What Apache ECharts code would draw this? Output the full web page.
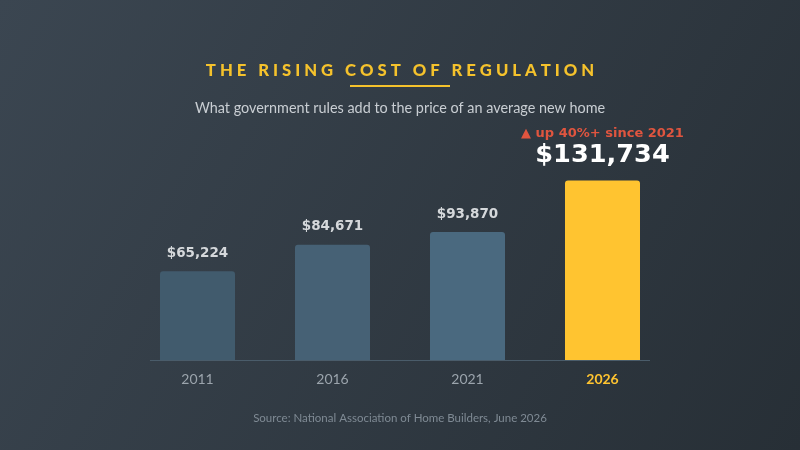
<!DOCTYPE html>
<html>
<head>
<meta charset="utf-8">
<script src="https://cdn.jsdelivr.net/npm/echarts@6/dist/echarts.min.js"></script>
<style>
  html, body { margin: 0; padding: 0; }
  #main { width: 800px; height: 450px; }
</style>
</head>
<body>
<div id="main"></div>
<script>
// data
var years = ['2011', '2016', '2021', '2026']
var costs = [65224, 84671, 93870, 131734]
var barColors = ['#415b6d', '#466175', '#4a697f', '#ffc430']
var titleText = 'THE RISING COST OF REGULATION'
var subText = 'What government rules add to the price of an average new home'
var noteText = '▲ up 40%+ since 2021'
var sourceText = 'Source: National Association of Home Builders, June 2026'

function fmt(v) {
  return '$' + v.toLocaleString('en-US')
}

// spread letters out, zrender has no letter spacing
function spaced(s) {
  return s.split('').join(' ')
}

var myChart = echarts.init(document.getElementById('main'))

var option = {
  backgroundColor: {
    type: 'linear', x: 0, y: 0, x2: 1, y2: 1,
    colorStops: [
      { offset: 0, color: '#3b4651' },
      { offset: 1, color: '#272f36' },
    ],
  },
  animation: false,
  title: [
    {
      text: spaced(titleText),
      left: 'center',
      top: 57,
      textStyle: { fontFamily: 'Lato', fontWeight: 900, fontSize: 16.7, color: '#f5c22c' },
    },
    {
      text: subText,
      left: 'center',
      top: 96,
      textStyle: { fontFamily: 'Lato', fontWeight: 'normal', fontSize: 14.4, color: '#c9ced3' },
    },
    {
      text: sourceText,
      left: 'center',
      top: 407,
      textStyle: { fontFamily: 'Lato', fontWeight: 'normal', fontSize: 11.5, color: '#7f8a94' },
    },
  ],
  graphic: [
    {
      type: 'line',
      shape: { x1: 350, y1: 86, x2: 450, y2: 86 },
      style: { stroke: '#f5c22c', lineWidth: 2 },
    },
    {
      type: 'line',
      shape: { x1: 150, y1: 360.5, x2: 650, y2: 360.5 },
      style: { stroke: '#4a5c6a', lineWidth: 1 },
      z: 10,
    },
  ],
  grid: { left: 130, right: 130, top: 142, bottom: 90 },
  xAxis: {
    type: 'category',
    data: years,
    axisLine: { show: false },
    axisTick: { show: false },
    axisLabel: {
      margin: 12,
      fontFamily: 'Lato',
      fontSize: 14,
      color: '#9ba4ac',
      formatter: function (v) {
        return v === '2026' ? '{hi|' + v + '}' : v
      },
      rich: {
        hi: { fontFamily: 'Lato', fontSize: 14, fontWeight: 'bold', color: '#ffc430' },
      },
    },
  },
  yAxis: {
    type: 'value',
    min: 0,
    max: 160000,
    show: false,
    splitLine: { show: false },
  },
  series: [
    {
      type: 'bar',
      barWidth: 75,
      data: costs.map(function (v, i) {
        var item = {
          value: v,
          itemStyle: { color: barColors[i], borderRadius: [3, 3, 0, 0] },
        }
        if (i === costs.length - 1) {
          item.label = {
            formatter: '{note|' + noteText + '}\n{big|' + fmt(v) + '}',
            distance: 10,
            rich: {
              note: { fontFamily: 'DejaVu Sans', fontWeight: 'bold', fontSize: 13, color: '#e0553f', lineHeight: 14 },
              big: { fontFamily: 'DejaVu Sans', fontWeight: 'bold', fontSize: 25.6, color: '#ffffff', lineHeight: 30 },
            },
          }
        }
        return item
      }),
      label: {
        show: true,
        position: 'top',
        distance: 11,
        fontFamily: 'DejaVu Sans',
        fontWeight: 'bold',
        fontSize: 13.5,
        color: '#d5d8db',
        formatter: function (p) {
          return fmt(p.value)
        },
      },
    },
  ],
}

myChart.setOption(option)
</script>
</body>
</html>
